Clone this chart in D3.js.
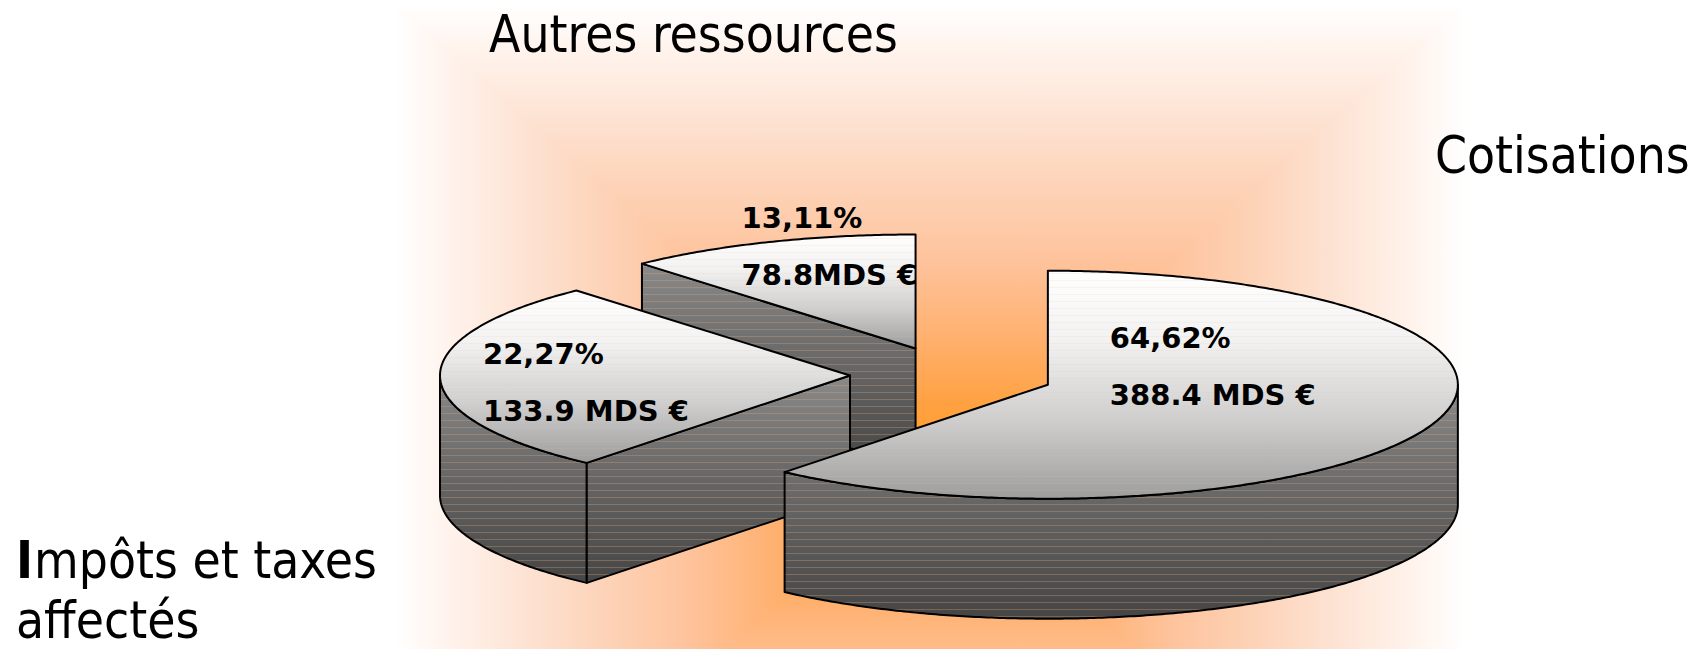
<!DOCTYPE html>
<html><head><meta charset="utf-8">
<script src="https://cdn.jsdelivr.net/npm/d3@7"></script>
<style>html,body{margin:0;padding:0;background:#fff;overflow:hidden}</style>
</head><body><svg id="chart" width="1694" height="649"></svg>
<script>
// ---------- data ----------
const categories = ["Cotisations", "Impôts et taxes affectés", "Autres ressources"];
const amounts = [388.4, 133.9, 78.8];
const percentLabels = ["64,62%", "22,27%", "13,11%"];
const amountLabels = ["388.4 MDS €", "133.9 MDS €", "78.8MDS €"];

// ---------- layout ----------
const W = 1694, H = 649;
// kFront / kBack: perspective-like warp of slice edge directions (front / back half)
const geo = {cx: 952, cy: 375, rx: 410, ry: 114, depth: 120, explode: 102, kFront: 0.64, kBack: 0.83};
const labelOffsets = [[62, -37], [-367, -11], [-174, -121]]; // relative to slice apex
const labelLine = 57;
const catLabels = [
  {lines: ["Cotisations"], x: 1435, y: 173},
  {lines: ["Impôts et taxes", "affectés"], x: 16, y: 578},
  {lines: ["Autres ressources"], x: 489, y: 52}
];
const catLineGap = 60;

const svg = d3.select("#chart");
const defs = svg.append("defs");

// ---------- background: rectangular gradient from centre ----------
const bg = {cx: 930, cy: 470, hw: 535, hh: 465};
const ramp = [[0, "#ff9a1a"], [0.15, "#ffa244"], [0.3, "#ffb273"], [0.45, "#fec39c"],
              [0.6, "#fdd2b6"], [0.75, "#fde2d2"], [0.9, "#fff3ec"], [1, "#ffffff"]];
svg.append("rect").attr("width", W).attr("height", H).attr("fill", "#fff");
const bx0 = bg.cx - bg.hw, bx1 = bg.cx + bg.hw, by0 = bg.cy - bg.hh, by1 = bg.cy + bg.hh;
const tris = [
  {id: "bgT", pts: [[bg.cx, bg.cy], [bx0, by0], [bx1, by0]], to: [bg.cx, by0]},
  {id: "bgB", pts: [[bg.cx, bg.cy], [bx0, by1], [bx1, by1]], to: [bg.cx, by1]},
  {id: "bgL", pts: [[bg.cx, bg.cy], [bx0, by0], [bx0, by1]], to: [bx0, bg.cy]},
  {id: "bgR", pts: [[bg.cx, bg.cy], [bx1, by0], [bx1, by1]], to: [bx1, bg.cy]}
];
tris.forEach(t => {
  const g = defs.append("linearGradient").attr("id", t.id).attr("gradientUnits", "userSpaceOnUse")
    .attr("x1", bg.cx).attr("y1", bg.cy).attr("x2", t.to[0]).attr("y2", t.to[1]);
  ramp.forEach(s => g.append("stop").attr("offset", s[0]).attr("stop-color", s[1]));
  svg.append("path").attr("d", "M" + t.pts.join("L") + "Z")
    .attr("fill", `url(#${t.id})`).attr("stroke", `url(#${t.id})`).attr("stroke-width", 1);
});

// ---------- face gradients and stripes ----------
const topG = defs.append("linearGradient").attr("id", "topG").attr("x1", 0).attr("y1", 0).attr("x2", 0).attr("y2", 1);
[[0, "#ffffff"], [0.3, "#f2f2f2"], [0.65, "#cfcfcf"], [1, "#9d9d9d"]]
  .forEach(s => topG.append("stop").attr("offset", s[0]).attr("stop-color", s[1]));
const sideG = defs.append("linearGradient").attr("id", "sideG").attr("x1", 0).attr("y1", 0).attr("x2", 0).attr("y2", 1);
[[0, "#8a8a8a"], [0.5, "#666666"], [1, "#454545"]]
  .forEach(s => sideG.append("stop").attr("offset", s[0]).attr("stop-color", s[1]));
function stripePattern(id, color) {
  const p = defs.append("pattern").attr("id", id).attr("patternUnits", "userSpaceOnUse")
    .attr("width", 10).attr("height", 7);
  p.append("rect").attr("width", 10).attr("height", 1).attr("fill", color);
}
stripePattern("stripesSide", "rgba(225,165,115,0.33)");
stripePattern("stripesTop", "rgba(240,190,150,0.14)");

// ---------- 3D exploded pie ----------
const pie = d3.pie().sort(null).value(d => d)(amounts);
function warp(a) {
  const k = Math.cos(a) < 0 ? geo.kFront : geo.kBack;
  let p = Math.atan2(k * Math.sin(a), Math.cos(a));
  if (p < 0) p += 2 * Math.PI;
  return p;
}
const pt = (c, phi, dz) => [c.x + geo.rx * Math.sin(phi), c.y - geo.ry * Math.cos(phi) + dz];
function arcPts(c, a, b, dz) {
  const n = Math.max(2, Math.ceil(Math.abs(b - a) / 0.01));
  return d3.range(n + 1).map(i => pt(c, a + (b - a) * i / n, dz));
}
const line = d3.line();

const slices = pie.map((p, i) => {
  const a0 = warp(p.startAngle);
  let a1 = warp(p.endAngle);
  if (a1 <= a0) a1 += 2 * Math.PI;
  const m = (a0 + a1) / 2;
  const c = {x: geo.cx + geo.explode * Math.sin(m),
             y: geo.cy - geo.explode * (geo.ry / geo.rx) * Math.cos(m)};
  return {i, a0, a1, c};
});
const drawOrder = slices.slice().sort((a, b) => a.c.y - b.c.y);

const pieG = svg.append("g");
function face(g, pts, fill, stripes) {
  const d = line(pts) + "Z";
  g.append("path").attr("d", d).attr("fill", fill);
  g.append("path").attr("d", d).attr("fill", `url(#${stripes})`);
  g.append("path").attr("d", d).attr("fill", "none").attr("stroke", "#000")
    .attr("stroke-width", 2).attr("stroke-linejoin", "round");
}
drawOrder.forEach(s => {
  const g = pieG.append("g");
  const D = geo.depth, c = s.c;
  const apexT = [c.x, c.y], apexB = [c.x, c.y + D];
  const ws = Math.max(s.a0, Math.PI / 2), we = Math.min(s.a1, 3 * Math.PI / 2);
  if (ws < we) face(g, arcPts(c, ws, we, 0).concat(arcPts(c, we, ws, D)), "url(#sideG)", "stripesSide");
  if (Math.sin(s.a0) < -1e-3) face(g, [apexT, pt(c, s.a0, 0), pt(c, s.a0, D), apexB], "url(#sideG)", "stripesSide");
  if (Math.sin(s.a1) > 1e-3) face(g, [apexT, pt(c, s.a1, 0), pt(c, s.a1, D), apexB], "url(#sideG)", "stripesSide");
  face(g, [apexT].concat(arcPts(c, s.a0, s.a1, 0)), "url(#topG)", "stripesTop");
});

// ---------- data labels ----------
const lblG = svg.append("g").attr("font-family", "'DejaVu Sans', Verdana, sans-serif")
  .attr("font-weight", "bold").attr("font-size", 29).attr("fill", "#000");
slices.forEach(s => {
  const x = s.c.x + labelOffsets[s.i][0], y = s.c.y + labelOffsets[s.i][1];
  lblG.append("text").attr("x", x).attr("y", y).text(percentLabels[s.i]);
  lblG.append("text").attr("x", x).attr("y", y + labelLine).text(amountLabels[s.i]);
});

// ---------- category labels ----------
const catG = svg.append("g").attr("font-family", "'DejaVu Sans Condensed', 'DejaVu Sans', sans-serif")
  .attr("font-stretch", "condensed").attr("font-size", 51).attr("fill", "#000");
catLabels.forEach((cl, i) => {
  cl.lines.forEach((ln, j) => {
    const y = cl.y + j * catLineGap;
    if (i === 1 && j === 0) {
      const first = catG.append("text").attr("x", cl.x).attr("y", y).attr("font-weight", "bold").text(ln[0]);
      const w = first.node().getComputedTextLength();
      catG.append("text").attr("x", cl.x + w + 1).attr("y", y).text(ln.slice(1));
    } else {
      catG.append("text").attr("x", cl.x).attr("y", y).text(ln);
    }
  });
});
</script></body></html>
